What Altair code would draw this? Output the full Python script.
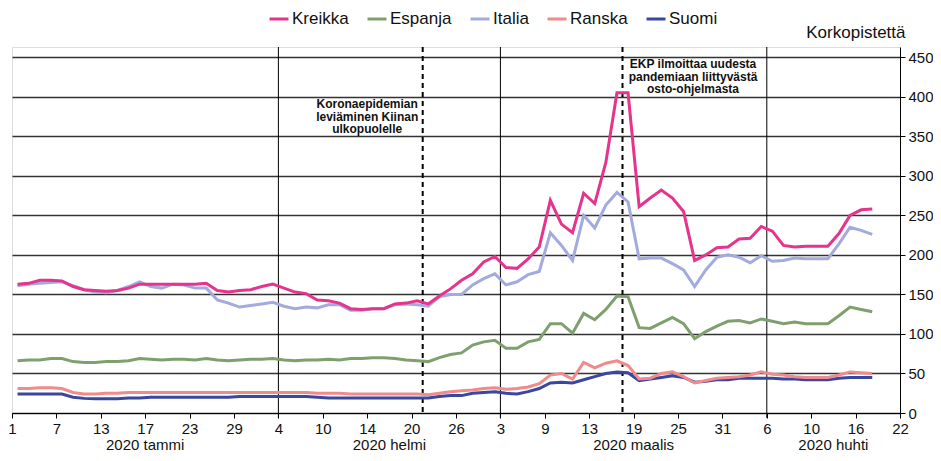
import altair as alt
import pandas as pd

# ---------------- data ----------------
series_names = ["Kreikka", "Espanja", "Italia", "Ranska", "Suomi"]
series_colors = ["#e6338b", "#7fa06e", "#a3aadd", "#f08a8b", "#3a47a0"]

# business-day tick labels (every 4th business day, 1 Jan – 22 Apr 2020)
tick_labels = ["1", "7", "13", "17", "23", "29", "4", "10", "14", "20", "26",
               "3", "9", "13", "19", "25", "31", "6", "10", "16", "22"]
months = ["2020 tammi", "2020 helmi", "2020 maalis", "2020 huhti"]
month_bounds = [0, 24, 44, 68, 80]

kreikka = [163, 164, 168, 168, 167, 160, 156, 155, 154, 155, 158, 163, 163, 163, 163, 163, 163, 164, 155, 153,
           155, 156, 160, 163, 158, 153, 151, 143, 142, 139, 132, 131, 132, 132, 138, 139, 142, 138, 148, 157,
           168, 176, 191, 198, 184, 183, 195, 210, 269, 239, 228, 278, 265, 317, 405, 405, 261, 272, 282, 272,
           255, 193, 200, 209, 210, 220, 221, 236, 230, 212, 210, 211, 211, 211, 227, 250, 257, 258]
espanja = [66, 67, 67, 69, 69, 65, 64, 64, 65, 65, 66, 69, 68, 67, 68, 68, 67, 69, 67, 66,
           67, 68, 68, 69, 67, 66, 67, 67, 68, 67, 69, 69, 70, 70, 69, 67, 66, 65, 70, 74,
           76, 86, 90, 92, 82, 82, 90, 93, 113, 113, 101, 126, 118, 131, 148, 147, 108, 107, 114, 121,
           113, 94, 103, 110, 116, 117, 114, 119, 116, 113, 115, 113, 113, 113, 123, 134, 131, 128]
italia = [161, 163, 164, 165, 166, 161, 156, 153, 152, 155, 160, 166, 160, 158, 163, 162, 158, 158, 143, 139,
          134, 136, 138, 140, 135, 132, 134, 133, 137, 137, 130, 130, 132, 132, 137, 138, 137, 135, 147, 150,
          150, 162, 170, 176, 162, 166, 175, 179, 228, 212, 193, 250, 234, 263, 279, 267, 195, 196, 196, 189,
          181, 160, 181, 197, 200, 197, 190, 199, 192, 193, 196, 195, 195, 195, 214, 235, 231, 226]
ranska = [31, 31, 32, 32, 31, 26, 24, 24, 25, 25, 26, 26, 26, 26, 26, 26, 26, 26, 26, 26,
          26, 26, 26, 26, 26, 26, 26, 25, 25, 25, 24, 24, 24, 24, 24, 24, 24, 23, 25, 27,
          28, 29, 31, 32, 30, 31, 33, 37, 48, 50, 43, 64, 57, 63, 66, 60, 43, 44, 50, 52,
          46, 38, 41, 44, 45, 46, 48, 52, 49, 48, 46, 45, 45, 45, 48, 52, 51, 50]
suomi = [24, 24, 24, 24, 24, 20, 18.5, 18, 18, 18, 19, 19, 20, 20, 20, 20, 20, 20, 20, 20,
         21, 21, 21, 21, 21, 21, 21, 20, 19, 19, 19, 19, 19, 19, 19, 19, 19, 19, 21, 22,
         22, 25, 26, 27, 25, 24, 27, 31, 38, 39, 38, 42, 46, 50, 52, 51, 41, 43, 45, 47,
         45, 39, 40, 42, 42, 44, 44, 44, 44, 43, 43, 42, 42, 42, 44, 45, 45, 45]

month_lines = [24, 44, 68]
event_lines = [37, 55]
event_texts = ["Koronaepidemian\nleviäminen Kiinan\nulkopuolelle",
               "EKP ilmoittaa uudesta\npandemiaan liittyvästä\nosto-ohjelmasta"]
event_text_x = [32.0, 61.35]
event_text_y = [391, 441.5]

# ---------------- tables ----------------
values_by_name = {"Kreikka": kreikka, "Espanja": espanja, "Italia": italia,
                  "Ranska": ranska, "Suomi": suomi}
draw_order = ["Suomi", "Ranska", "Espanja", "Italia", "Kreikka"]
rows = []
for name in draw_order:
    for k, v in enumerate(values_by_name[name]):
        rows.append({"pos": k + 0.5, "value": v, "series": name})
df = pd.DataFrame(rows)

month_df = pd.DataFrame({
    "month": months,
    "center": [(month_bounds[i] + month_bounds[i + 1]) / 2 for i in range(len(months))],
})
mline_df = pd.DataFrame({"pos": month_lines})
eline_df = pd.DataFrame({"pos": event_lines})
etext_df = pd.DataFrame({"pos": event_text_x, "value": event_text_y, "text": event_texts})

W, H = 888, 366
FONT = "Liberation Sans"
YTITLE = "Korkopistettä"
label_expr = "[" + ",".join("'" + t + "'" for t in tick_labels) + "][round(datum.value/4)]"

xscale = alt.Scale(domain=[0, 80], nice=False, zero=False)
yscale = alt.Scale(domain=[0, 463], nice=False, zero=True)

lines = alt.Chart(df).mark_line(strokeWidth=3, strokeJoin="miter").encode(
    x=alt.X("pos:Q", scale=xscale, title=None,
            axis=alt.Axis(values=list(range(0, 81, 4)), labelExpr=label_expr, grid=False,
                          tickSize=5, labelFontSize=15, labelPadding=3, labelFont=FONT,
                          labelColor="#111", domainColor="black", tickColor="black",
                          labelFlush=False, labelOverlap=False)),
    y=alt.Y("value:Q", scale=yscale, title=YTITLE,
            axis=alt.Axis(orient="right", values=list(range(0, 451, 50)),
                          titleAngle=0, titleAlign="right",
                          titleBaseline="middle", titleX=5, titleY=-15, titleFontSize=17,
                          titleFontWeight="normal", titleFont=FONT, titleColor="#111",
                          grid=True, gridColor="#333333", gridWidth=1.3,
                          tickSize=5, labelFontSize=15, labelPadding=3, labelFont=FONT,
                          labelColor="#111", domainColor="black", tickColor="black",
                          labelFlush=False)),
    color=alt.Color("series:N",
                    scale=alt.Scale(domain=series_names, range=series_colors),
                    legend=alt.Legend(orient="none", legendX=256, legendY=-39,
                                      direction="horizontal", title=None,
                                      symbolType="stroke", symbolStrokeWidth=3,
                                      symbolSize=360, labelFontSize=17,
                                      labelFont="Liberation Sans Narrow, Liberation Sans",
                                      labelColor="#111", columnPadding=12, labelOffset=2)),
    detail="series:N",
)

mlines = alt.Chart(mline_df).mark_rule(color="black", strokeWidth=1).encode(
    x=alt.X("pos:Q", scale=xscale, title=None),
    y=alt.value(0), y2=alt.value(H + 5),
)

elines = alt.Chart(eline_df).mark_rule(color="black", strokeWidth=2, strokeDash=[5, 4]).encode(
    x=alt.X("pos:Q", scale=xscale, title=None),
    y=alt.value(0), y2=alt.value(H),
)

etext = alt.Chart(etext_df).mark_text(font=FONT, fontSize=12, fontWeight="bold",
                                      lineBreak="\n", lineHeight=12.7, align="center",
                                      baseline="middle", color="#111").encode(
    x=alt.X("pos:Q", scale=xscale, title=None),
    y=alt.Y("value:Q", scale=yscale, title=YTITLE),
    text="text:N",
)

mtext = alt.Chart(month_df).mark_text(font=FONT, fontSize=15, align="center",
                                      baseline="middle", color="#111").encode(
    x=alt.X("center:Q", scale=xscale, title=None),
    y=alt.value(H + 32),
    text="month:N",
)

chart = alt.layer(mlines, elines, lines, etext, mtext).properties(
    width=W, height=H,
    autosize=alt.AutoSizeParams(type="none"),
    padding={"left": 4, "top": 39, "right": 33, "bottom": 40},
).configure_view(stroke="black", strokeWidth=1).configure(background="white")

chart.save("out.html", embed_options={"renderer": "svg", "actions": False})
